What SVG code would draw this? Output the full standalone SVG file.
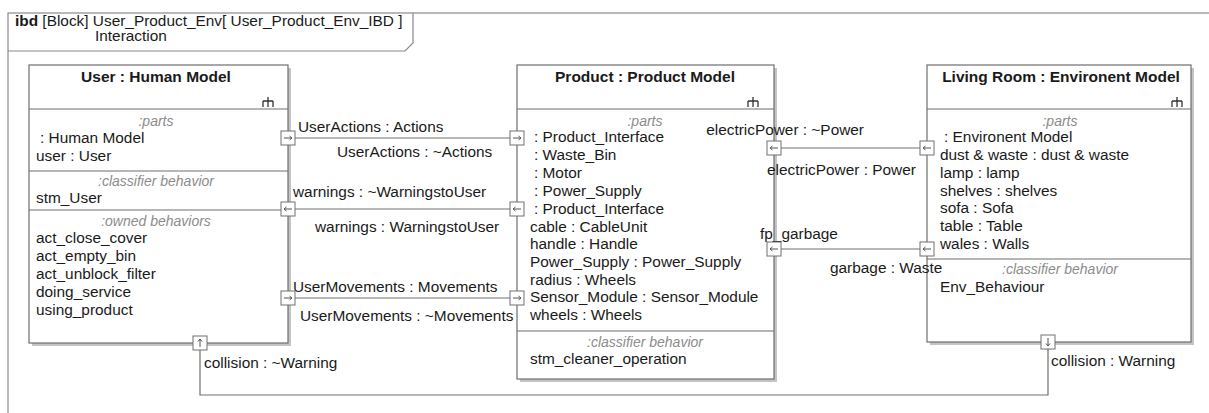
<svg xmlns="http://www.w3.org/2000/svg" xmlns:xlink="http://www.w3.org/1999/xlink" width="1209" height="413" viewBox="0 0 1209 413">
  <style>
    text { font-family: "Liberation Sans", Arial, sans-serif; font-size: 15.4px; fill: #1a1a1a; }
    .title { font-weight: bold; font-size: 15.5px; text-anchor: middle; }
    .comp { font-style: italic; font-size: 14px; fill: #8c8c8c; text-anchor: middle; }
    .box { fill: #ffffff; stroke: #6e6e6e; stroke-width: 1.2; }
    .shadow { fill: #c4c4c4; }
    .sep { stroke: #6e6e6e; stroke-width: 1.2; }
    .frame { fill: none; stroke: #8a8a8a; stroke-width: 1.2; }
    .wire { fill: none; stroke: #707070; stroke-width: 1.2; }
    .port { fill: #ffffff; stroke: #707070; stroke-width: 1; }
    .arr { fill: none; stroke: #555; stroke-width: 1; }
    .icon { fill: none; stroke: #333; stroke-width: 1.3; }
  </style>
  <defs>
    <!-- port squares centred on (0,0), with a direction arrow inside -->
    <g id="port-right">
      <rect class="port" x="-7" y="-7" width="14" height="14"/>
      <path class="arr" d="M-4,0 H4 M1.5,-2 L4,0 L1.5,2"/>
    </g>
    <g id="port-left">
      <rect class="port" x="-7" y="-7" width="14" height="14"/>
      <path class="arr" d="M4,0 H-4 M-1.5,-2 L-4,0 L-1.5,2"/>
    </g>
    <g id="port-up">
      <rect class="port" x="-7" y="-7" width="14" height="14"/>
      <path class="arr" d="M0,4 V-4 M-2,-1.5 L0,-4 L2,-1.5"/>
    </g>
    <g id="port-down">
      <rect class="port" x="-7" y="-7" width="14" height="14"/>
      <path class="arr" d="M0,-4 V4 M-2,1.5 L0,4 L2,1.5"/>
    </g>
    <!-- structure (part decomposition) icon -->
    <path id="struct-icon" class="icon" d="M0,-4 V0 M-5,0 H5 M-5,0 V6 M0,0 V6 M5,0 V6"/>
  </defs>

  <!-- diagram frame -->
  <g id="frame">
    <rect class="frame" x="8" y="13" width="1215" height="410"/>
    <path class="frame" d="M8,51 H405 L413,43 V13"/>
    <text x="15" y="26"><tspan font-weight="bold">ibd</tspan> [Block] User_Product_Env[ User_Product_Env_IBD ]</text>
    <text x="95" y="41">Interaction</text>
  </g>

  <!-- User block -->
  <g id="user">
    <rect class="shadow" x="32" y="68" width="259" height="278"/>
    <rect class="box" x="29" y="65" width="259" height="278"/>
    <line class="sep" x1="29" y1="109" x2="288" y2="109"/>
    <line class="sep" x1="29" y1="171" x2="288" y2="171"/>
    <line class="sep" x1="29" y1="210" x2="288" y2="210"/>
    <text class="title" x="156" y="82">User : Human Model</text>
    <use xlink:href="#struct-icon" x="268" y="101"/>
    <text class="comp" x="156" y="126">:parts</text>
    <text x="40" y="143">: Human Model</text>
    <text x="36" y="161">user : User</text>
    <text class="comp" x="156" y="186">:classifier behavior</text>
    <text x="36" y="203">stm_User</text>
    <text class="comp" x="156" y="226">:owned behaviors</text>
    <text x="36" y="243">act_close_cover</text>
    <text x="36" y="261">act_empty_bin</text>
    <text x="36" y="279">act_unblock_filter</text>
    <text x="36" y="297">doing_service</text>
    <text x="36" y="315">using_product</text>
  </g>

  <!-- Product block -->
  <g id="product">
    <rect class="shadow" x="520" y="68" width="257" height="314"/>
    <rect class="box" x="517" y="65" width="257" height="314"/>
    <line class="sep" x1="517" y1="109" x2="774" y2="109"/>
    <line class="sep" x1="517" y1="331" x2="774" y2="331"/>
    <text class="title" x="645" y="82">Product : Product Model</text>
    <use xlink:href="#struct-icon" x="753" y="101"/>
    <text class="comp" x="645" y="126">:parts</text>
    <text x="534" y="142">: Product_Interface</text>
    <text x="534" y="160">: Waste_Bin</text>
    <text x="534" y="178">: Motor</text>
    <text x="534" y="196">: Power_Supply</text>
    <text x="534" y="214">: Product_Interface</text>
    <text x="530" y="232">cable : CableUnit</text>
    <text x="530" y="249">handle : Handle</text>
    <text x="530" y="267">Power_Supply : Power_Supply</text>
    <text x="530" y="285">radius : Wheels</text>
    <text x="530" y="302">Sensor_Module : Sensor_Module</text>
    <text x="530" y="320">wheels : Wheels</text>
    <text class="comp" x="645" y="347">:classifier behavior</text>
    <text x="530" y="364">stm_cleaner_operation</text>
  </g>

  <!-- Living Room block -->
  <g id="living-room">
    <rect class="shadow" x="930" y="68" width="264" height="277"/>
    <rect class="box" x="927" y="65" width="264" height="277"/>
    <line class="sep" x1="927" y1="109" x2="1191" y2="109"/>
    <line class="sep" x1="927" y1="259" x2="1191" y2="259"/>
    <text class="title" x="1061" y="82">Living Room : Environent Model</text>
    <use xlink:href="#struct-icon" x="1177" y="101"/>
    <text class="comp" x="1060" y="126">:parts</text>
    <text x="944" y="142">: Environent Model</text>
    <text x="940" y="160">dust &amp; waste : dust &amp; waste</text>
    <text x="940" y="178">lamp : lamp</text>
    <text x="940" y="196">shelves : shelves</text>
    <text x="940" y="213">sofa : Sofa</text>
    <text x="940" y="231">table : Table</text>
    <text x="940" y="249">wales : Walls</text>
    <text class="comp" x="1060" y="274">:classifier behavior</text>
    <text x="940" y="292">Env_Behaviour</text>
  </g>

  <!-- connectors -->
  <g id="connectors">
    <line class="wire" x1="295" y1="138" x2="510" y2="138"/>
    <line class="wire" x1="295" y1="209" x2="510" y2="209"/>
    <line class="wire" x1="295" y1="298" x2="510" y2="298"/>
    <line class="wire" x1="781" y1="148" x2="920" y2="148"/>
    <line class="wire" x1="781" y1="249" x2="920" y2="249"/>
    <path class="wire" d="M200,350 V395 H1048 V349"/>

    <text x="298" y="132">UserActions : Actions</text>
    <text x="337" y="157">UserActions : ~Actions</text>
    <text x="293" y="197">warnings : ~WarningstoUser</text>
    <text x="315" y="232">warnings : WarningstoUser</text>
    <text x="293" y="292">UserMovements : Movements</text>
    <text x="300" y="321">UserMovements : ~Movements</text>
    <text x="864" y="135" text-anchor="end">electricPower : ~Power</text>
    <text x="767" y="175">electricPower : Power</text>
    <text x="760" y="239">fp_garbage</text>
    <text x="830" y="273">garbage : Waste</text>
    <text x="204" y="368">collision : ~Warning</text>
    <text x="1051" y="366">collision : Warning</text>
  </g>

  <!-- ports -->
  <g id="ports">
    <use xlink:href="#port-right" x="288" y="138"/>
    <use xlink:href="#port-left" x="288" y="209"/>
    <use xlink:href="#port-right" x="288" y="298"/>
    <use xlink:href="#port-up" x="200" y="343"/>
    <use xlink:href="#port-right" x="517" y="138"/>
    <use xlink:href="#port-left" x="517" y="209"/>
    <use xlink:href="#port-right" x="517" y="298"/>
    <use xlink:href="#port-left" x="774" y="148"/>
    <use xlink:href="#port-left" x="774" y="249"/>
    <use xlink:href="#port-left" x="927" y="148"/>
    <use xlink:href="#port-left" x="927" y="249"/>
    <use xlink:href="#port-down" x="1048" y="342"/>
  </g>
</svg>
